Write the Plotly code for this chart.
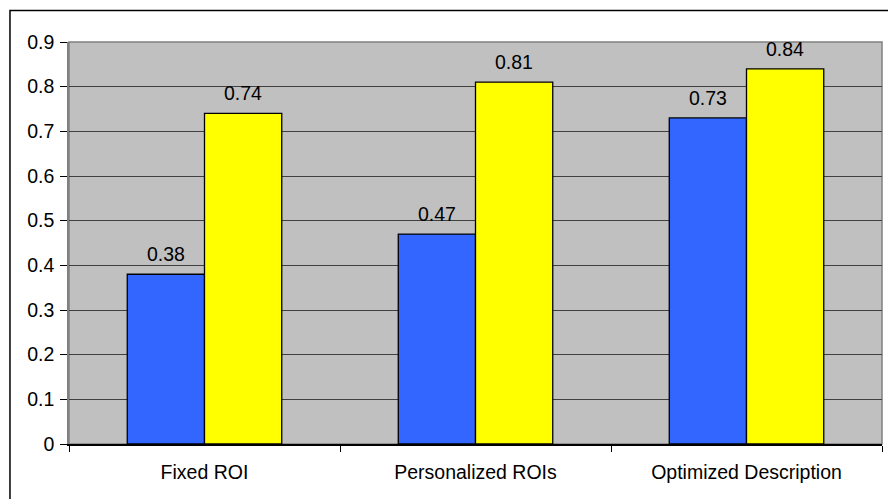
import plotly.graph_objects as go

categories = ["Fixed ROI", "Personalized ROIs", "Optimized Description"]
series_a = [0.38, 0.47, 0.73]
series_b = [0.74, 0.81, 0.84]
y_ticks = [0, 0.1, 0.2, 0.3, 0.4, 0.5, 0.6, 0.7, 0.8, 0.9]
y_tick_text = ["0", "0.1", "0.2", "0.3", "0.4", "0.5", "0.6", "0.7", "0.8", "0.9"]

FONT = "Liberation Sans, Arial, sans-serif"
FSIZE = 19.5

fig = go.Figure()
fig.add_trace(go.Bar(
    x=categories, y=series_a, name="A",
    marker=dict(color="#3366FF", line=dict(color="black", width=1.3)),
))
fig.add_trace(go.Bar(
    x=categories, y=series_b, name="B",
    marker=dict(color="#FFFF00", line=dict(color="black", width=1.3)),
))

# value labels above each bar
annotations = []
for i, cat in enumerate(categories):
    for val, off in ((series_a[i], -0.142), (series_b[i], 0.142)):
        annotations.append(dict(
            x=i + off, y=val, xref="x", yref="y",
            text=f"{val:.2f}",
            showarrow=False, yanchor="bottom", yshift=7,
            font=dict(family=FONT, size=FSIZE, color="black"),
        ))

fig.update_layout(
    width=888, height=499,
    margin=dict(l=69, r=6, t=42, b=55),
    paper_bgcolor="white",
    plot_bgcolor="#C0C0C0",
    barmode="group",
    bargap=0.43,
    bargroupgap=0,
    showlegend=False,
    font=dict(family=FONT, size=FSIZE, color="black"),
    annotations=annotations,
    shapes=[
        # outer chart frame
        dict(type="rect", xref="paper", yref="paper",
             x0=-0.0726, y0=-0.3, x1=1.2, y1=1.0785,
             line=dict(color="black", width=1.5), fillcolor="rgba(0,0,0,0)", layer="below"),
        # plot area border
        dict(type="rect", xref="paper", yref="paper",
             x0=0, y0=0, x1=1, y1=1,
             line=dict(color="#808080", width=1.5), fillcolor="rgba(0,0,0,0)", layer="below"),
    ],
)

fig.update_yaxes(
    range=[0, 0.9], tickvals=y_ticks, ticktext=y_tick_text,
    showgrid=True, gridcolor="#404040", gridwidth=1,
    ticks="outside", ticklen=7, tickcolor="black", tickwidth=1,
    showline=True, linecolor="#808080", linewidth=1.5,
    zeroline=False, tickfont=dict(family=FONT, size=FSIZE), ticklabelstandoff=2,
)
fig.update_xaxes(
    type="category", tickson="boundaries",
    ticks="outside", ticklen=6, tickcolor="black", tickwidth=1,
    showline=True, linecolor="black", linewidth=1.5,
    showgrid=False, tickfont=dict(family=FONT, size=FSIZE), ticklabelstandoff=10,
)

fig.write_html("out.html")
